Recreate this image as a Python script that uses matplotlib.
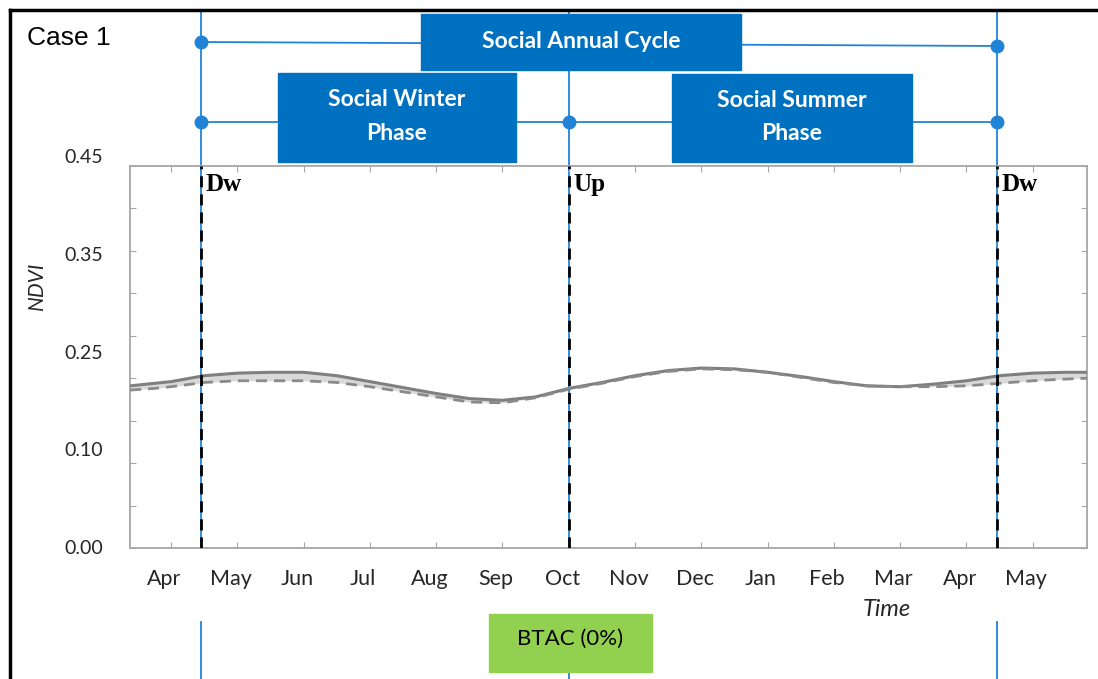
import numpy as np
import matplotlib
matplotlib.use("Agg")
import matplotlib.pyplot as plt
import matplotlib.transforms as mtransforms
from matplotlib.patches import Rectangle

# data (x = month index, Apr = 0)
months = ["Apr", "May", "Jun", "Jul", "Aug", "Sep", "Oct", "Nov", "Dec",
          "Jan", "Feb", "Mar", "Apr", "May"]
x = [-0.62, -0.25, 0, 0.5, 1, 1.5, 2, 2.5, 3, 3.5, 4, 4.5, 5, 5.5, 6, 6.5,
     7, 7.5, 8, 8.5, 9, 9.5, 10, 10.5, 11, 11.5, 12, 12.5, 13, 13.5, 13.82]
ndvi_solid = [0.191, 0.194, 0.196, 0.203, 0.206, 0.207, 0.207, 0.203, 0.196,
              0.189, 0.182, 0.176, 0.174, 0.178, 0.188, 0.195, 0.203, 0.209,
              0.212, 0.211, 0.207, 0.202, 0.196, 0.191, 0.190, 0.193, 0.197,
              0.203, 0.206, 0.207, 0.207]
ndvi_dashed = [0.186, 0.188, 0.190, 0.195, 0.197, 0.197, 0.197, 0.195, 0.190,
               0.184, 0.178, 0.172, 0.171, 0.177, 0.187, 0.194, 0.202, 0.208,
               0.211, 0.210, 0.207, 0.201, 0.195, 0.191, 0.190, 0.190, 0.191,
               0.194, 0.197, 0.199, 0.200]
phase_x = [0.45, 6.0, 12.46]
phase_labels = ["Dw", "Up", "Dw"]
ytick_labels = ["0.00", "0.10", "0.25", "0.35", "0.45"]
ytick_pos = [0.0, 0.115, 0.229, 0.344, 0.46]

W, H = 1098, 679
fig = plt.figure(figsize=(W / 100, H / 100), dpi=100)

def fx(px):
    return px / W

def fy(py):
    return 1 - py / H

ax = fig.add_axes([fx(130), fy(548), fx(1087) - fx(130), fy(166) - fy(548)])
ax.set_xlim(-0.62, 13.82)
ax.set_ylim(0, 0.45)

ax.fill_between(x, ndvi_dashed, ndvi_solid, color="#d9d9d9", lw=0, zorder=2)
ax.plot(x, ndvi_solid, color="#7f7f7f", lw=2.2, zorder=3)
ax.plot(x, ndvi_dashed, color="#8a8a8a", lw=2, ls=(0, (4, 2.5)), zorder=3)

# ticks inward on all sides
ax.set_xticks(range(len(months)))
ax.set_xticklabels([])
ax.set_yticks(np.arange(0, 0.451, 0.05))
ax.set_yticklabels([])
ax.tick_params(direction="in", length=4, color="#a6a6a6", top=True, right=True)
for s in ax.spines.values():
    s.set_color("#a6a6a6")
    s.set_linewidth(1.3)

lab_font = dict(family="Lato", color="#262626")
for i, m in enumerate(months):
    ax.text(i - 0.1, -0.036, m, ha="center", va="center", fontsize=15.5,
            transform=ax.transData, **lab_font)
ytr = mtransforms.blended_transform_factory(ax.transAxes, ax.transData)
for p, l in zip(ytick_pos, ytick_labels):
    ax.text(-0.028, p, l, ha="right", va="center", fontsize=14,
            transform=ytr, **lab_font)

fig.text(fx(37), fy(286), "NDVI", rotation=90, ha="center", va="center",
         style="italic", family="Lato", fontsize=15, color="#262626")
fig.text(fx(887), fy(610), "Time", ha="center", va="center",
         style="italic", family="Lato", fontsize=17, color="#262626")

# phase boundaries
bt = mtransforms.blended_transform_factory(ax.transData, fig.transFigure)
blue = "#2183d6"
for px_, lab in zip(phase_x, phase_labels):
    ax.plot([px_, px_], [fy(548), fy(12)], color=blue, lw=1.3,
            transform=bt, clip_on=False, zorder=1)
    ax.plot([px_, px_], [0, 0.45], color="black", lw=2, ls=(0, (4, 2.5)),
            zorder=4)
    ax.text(px_ + 0.07, 0.428, lab, ha="left", va="center",
            family="Liberation Serif", fontweight="bold", fontsize=18)
ax.plot([phase_x[0], phase_x[0]], [fy(622), 0], color=blue, lw=1.3,
        transform=bt, clip_on=False)
ax.plot([phase_x[2], phase_x[2]], [fy(622), 0], color=blue, lw=1.3,
        transform=bt, clip_on=False)
ax.plot([phase_x[1], phase_x[1]], [fy(670), 0], color=blue, lw=1.3,
        transform=bt, clip_on=False)

# connector lines and dots
ax.plot([phase_x[0], phase_x[2]], [fy(42), fy(46)], color=blue, lw=1.3,
        transform=bt, clip_on=False)
ax.plot([phase_x[0], phase_x[2]], [fy(122), fy(122)], color=blue, lw=1.3,
        transform=bt, clip_on=False)
ax.plot([phase_x[0], phase_x[2]], [fy(42), fy(46)], "o", color=blue, ms=9,
        transform=bt, clip_on=False)
ax.plot(phase_x, [fy(122)] * 3, "o", color=blue, ms=9,
        transform=bt, clip_on=False)

box_blue = "#0070c0"
boxes = [(421, 14, 741, 70, "Social Annual Cycle"),
         (278, 73, 516, 162, "Social Winter\nPhase"),
         (672, 74, 912, 162, "Social Summer\nPhase")]
for x0, y0, x1, y1, txt in boxes:
    fig.patches.append(Rectangle((fx(x0), fy(y1)), fx(x1) - fx(x0),
                                 fy(y0) - fy(y1), transform=fig.transFigure,
                                 color=box_blue, zorder=5))
    fig.text(fx((x0 + x1) / 2), fy((y0 + y1) / 2 - 1), txt, ha="center",
             va="center", color="white", family="Lato", fontweight="bold",
             fontsize=16.5, linespacing=1.75, zorder=6)

fig.patches.append(Rectangle((fx(489), fy(672)), fx(652) - fx(489),
                             fy(614) - fy(672), transform=fig.transFigure,
                             color="#92d050", zorder=5))
fig.text(fx(570), fy(639), "BTAC (0%)", ha="center", va="center",
         family="Lato", fontsize=16, color="black", zorder=6)

fig.text(fx(27), fy(38), "Case 1", ha="left", va="center",
         family="Liberation Sans", fontsize=19)

# outer frame (left and top)
fig.add_artist(plt.Line2D([fx(10), fx(10)], [0, fy(10)], color="black", lw=2.5,
                          transform=fig.transFigure))
fig.add_artist(plt.Line2D([fx(10), 1], [fy(10), fy(10)], color="black", lw=2.5,
                          transform=fig.transFigure))

fig.savefig("out.png", dpi=100)
